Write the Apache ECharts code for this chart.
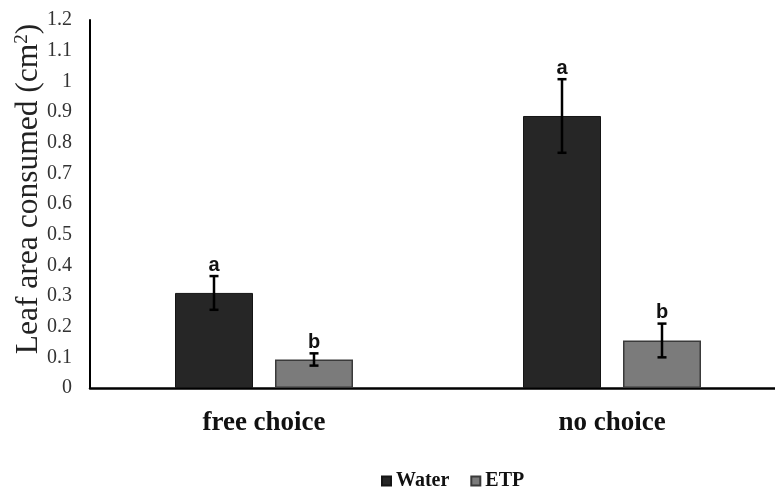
<!DOCTYPE html>
<html><head><meta charset="utf-8">
<script src="https://cdn.jsdelivr.net/npm/echarts@6/dist/echarts.min.js"></script>
<style>html,body{margin:0;padding:0;background:#fff}#c{width:775px;height:491px}</style>
</head><body><div id="c"></div>
<script>
const categories = ['free choice', 'no choice'];
const waterMeans = [0.31, 0.887];
const waterErrors = [0.055, 0.12];
const etpMeans = [0.093, 0.155];
const etpErrors = [0.02, 0.055];
const waterLetters = ['a', 'a'];
const etpLetters = ['b', 'b'];
const yTickLabels = ['0','0.1','0.2','0.3','0.4','0.5','0.6','0.7','0.8','0.9','1','1.1','1.2'];

const BAR_W = 78, BAR_GAP = 22;
const OFFSET = BAR_W / 2 + BAR_GAP / 2;
const SERIF = '"Liberation Serif", "Times New Roman", serif';

function errSeries(means, errs, letters, side) {
  return {
    type: 'custom',
    silent: true,
    z: 5,
    data: means.map((m, i) => [i, m, errs[i]]),
    renderItem(params, api) {
      const i = api.value(0), m = api.value(1), e = api.value(2);
      const hi = api.coord([i, m + e]);
      const lo = api.coord([i, m - e]);
      const x = hi[0] + side * OFFSET;
      const cap = 4.5;
      const st = { stroke: '#000', lineWidth: 2.5 };
      return {
        type: 'group',
        children: [
          { type: 'line', shape: { x1: x, y1: hi[1], x2: x, y2: lo[1] }, style: st },
          { type: 'line', shape: { x1: x - cap, y1: hi[1], x2: x + cap, y2: hi[1] }, style: st },
          { type: 'line', shape: { x1: x - cap, y1: lo[1], x2: x + cap, y2: lo[1] }, style: st },
          { type: 'text', x: x, y: hi[1] - 1,
            style: { text: letters[params.dataIndex], align: 'center', verticalAlign: 'bottom',
                     font: 'bold 20px "Liberation Sans", Arial, sans-serif', fill: '#111' } }
        ]
      };
    }
  };
}

const chart = echarts.init(document.getElementById('c'), null, { renderer: 'canvas' });
chart.setOption({
  animation: false,
  backgroundColor: '#fff',
  grid: { left: 90, top: 20, width: 696, height: 368, outerBoundsMode: 'none', containLabel: false },
  legend: {
    data: ['Water', 'ETP'],
    left: 376, top: 466,
    itemWidth: 9, itemHeight: 9, itemGap: 21,
    icon: 'rect',
    textStyle: { fontFamily: SERIF, fontSize: 20, fontWeight: 'bold', color: '#111' }
  },
  xAxis: {
    type: 'category',
    data: categories,
    axisLine: { lineStyle: { color: '#000', width: 2.5 } },
    axisTick: { show: false },
    axisLabel: { fontFamily: SERIF, fontSize: 27, fontWeight: 'bold', color: '#111', margin: 22 }
  },
  yAxis: {
    type: 'value',
    min: 0, max: 1.2, interval: 0.1,
    name: 'Leaf area consumed (cm{s|2})',
    nameLocation: 'middle',
    nameGap: 45,
    nameMoveOverlap: false,
    nameTextStyle: {
      fontFamily: SERIF, fontSize: 31.5, color: '#222', padding: [0, 0, 0, 30],
      rich: { s: { fontFamily: SERIF, fontSize: 19, color: '#222', verticalAlign: 'top' } }
    },
    splitLine: { show: false },
    axisTick: { show: false },
    axisLine: { show: true, lineStyle: { color: '#000', width: 2 } },
    axisLabel: {
      fontFamily: SERIF, fontSize: 20, color: '#333', margin: 18,
      formatter: (v) => yTickLabels[Math.round(v * 10)]
    }
  },
  series: [
    { name: 'Water', type: 'bar', data: waterMeans, barWidth: BAR_W, barGap: (BAR_GAP / BAR_W * 100) + '%',
      itemStyle: { color: '#262626', borderColor: '#151515', borderWidth: 1 } },
    { name: 'ETP', type: 'bar', data: etpMeans, barWidth: BAR_W,
      itemStyle: { color: '#7b7b7b', borderColor: '#3a3a3a', borderWidth: 1.5 } },
    errSeries(waterMeans, waterErrors, waterLetters, -1),
    errSeries(etpMeans, etpErrors, etpLetters, 1)
  ]
});
</script></body></html>
